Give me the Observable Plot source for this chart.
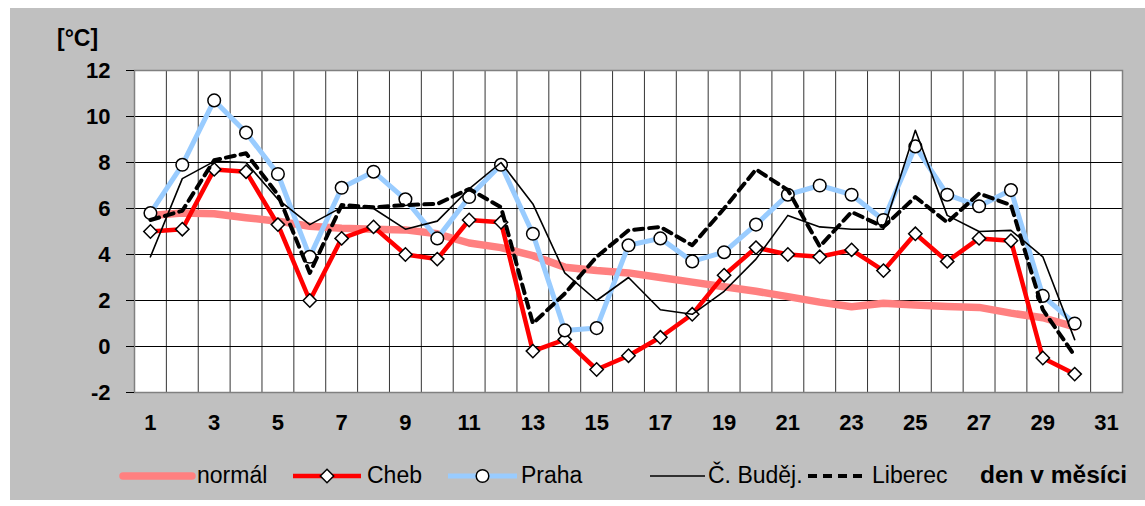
<!DOCTYPE html>
<html><head><meta charset="utf-8">
<script src="https://cdn.jsdelivr.net/npm/d3@7"></script>
<script src="https://cdn.jsdelivr.net/npm/@observablehq/plot@0.6"></script>
<style>
body{margin:0;background:#fff;font-family:"Liberation Sans",Arial,sans-serif;}
#wrap{position:relative;margin:8px 0 0 10px;width:1135px;height:492px;background:#c0c0c0;}
#unit{position:absolute;left:47px;top:17px;font-size:23px;font-weight:bold;color:#000;}
#chart{position:absolute;left:0;top:0;}
#legend{position:absolute;left:0;top:448px;}
#legend text{font-family:"Liberation Sans",Arial,sans-serif;font-size:23px;fill:#000;}
</style></head><body>
<div id="wrap"><div id="chart"></div><div id="unit">[°C]</div><svg id="legend" width="1135" height="40"></svg></div>
<script>
// categories
const dayCats = [1,2,3,4,5,6,7,8,9,10,11,12,13,14,15,16,17,18,19,20,21,22,23,24,25,26,27,28,29,30,31];
const days = [1,2,3,4,5,6,7,8,9,10,11,12,13,14,15,16,17,18,19,20,21,22,23,24,25,26,27,28,29,30];
const xTicks = [1,3,5,7,9,11,13,15,17,19,21,23,25,27,29,31];
const yTicks = [-2,0,2,4,6,8,10,12];
const seriesNames = ["normál","Cheb","Praha","Č. Buděj.","Liberec"];
// series values (°C)
const normal = [5.7,5.8,5.77,5.6,5.45,5.23,5.14,5.1,5.07,4.9,4.5,4.3,3.95,3.45,3.3,3.2,3.0,2.8,2.6,2.4,2.17,1.93,1.73,1.88,1.8,1.74,1.7,1.45,1.25,0.85];
const cheb = [5.0,5.1,7.7,7.6,5.3,2.0,4.7,5.2,4.0,3.8,5.5,5.4,-0.2,0.3,-1.0,-0.4,0.4,1.4,3.1,4.3,4.0,3.9,4.2,3.3,4.9,3.7,4.7,4.6,-0.5,-1.2];
const praha = [5.8,7.9,10.7,9.3,7.5,3.9,6.9,7.6,6.4,4.7,6.5,7.9,4.9,0.7,0.8,4.4,4.7,3.7,4.1,5.3,6.6,7.0,6.6,5.5,8.7,6.6,6.1,6.8,2.2,1.0];
const budej = [3.9,7.3,8.05,8.0,6.4,5.3,6.05,6.0,5.1,5.45,6.85,8.0,6.2,3.2,2.0,3.0,1.6,1.4,2.4,3.8,5.7,5.2,5.1,5.1,9.4,5.7,5.0,5.05,3.9,0.3];
const liberec = [5.5,5.9,8.1,8.4,6.6,3.2,6.15,6.05,6.15,6.2,6.85,6.05,1.0,2.3,3.9,5.05,5.2,4.4,6.0,7.7,6.8,4.35,5.85,5.2,6.5,5.4,6.65,6.15,1.6,-0.4];

const rows = vals => days.map((d,i) => ({day:d, v:vals[i]}));
const boundaries = [dayCats[0]-0.5, ...dayCats.map(d => d+0.5)];

const chart = Plot.plot({
  width:1135, height:440,
  marginLeft:124, marginRight:23, marginTop:62, marginBottom:56,
  style:{background:"transparent", fontFamily:"'Liberation Sans',Arial,sans-serif", fontWeight:"bold", color:"#000"},
  x:{type:"linear", domain:[dayCats[0]-0.5, dayCats[dayCats.length-1]+0.5], axis:null},
  y:{domain:[yTicks[0], yTicks[yTicks.length-1]], axis:null},
  marks:[
    Plot.frame({fill:"white", stroke:"none"}),
    Plot.ruleX(boundaries, {stroke:"#000", strokeWidth:1, strokeOpacity:0.8}),
    Plot.ruleY(yTicks, {stroke:"#000", strokeWidth:1}),
    Plot.frame({stroke:"#808080", strokeWidth:1.5}),
    Plot.line(rows(normal), {x:"day", y:"v", stroke:"#ff8080", strokeWidth:7.5, strokeLinejoin:"round", strokeLinecap:"round"}),
    Plot.line(rows(cheb), {x:"day", y:"v", stroke:"#ff0000", strokeWidth:4.5, strokeLinejoin:"round"}),
    Plot.dot(rows(cheb), {x:"day", y:"v", symbol:"diamond2", r:6, fill:"white", stroke:"#000", strokeWidth:1.5}),
    Plot.line(rows(praha), {x:"day", y:"v", stroke:"#99ccff", strokeWidth:5, strokeLinejoin:"round"}),
    Plot.dot(rows(praha), {x:"day", y:"v", symbol:"circle", r:6.3, fill:"white", stroke:"#000", strokeWidth:1.5}),
    Plot.line(rows(budej), {x:"day", y:"v", stroke:"#000", strokeWidth:1.6}),
    Plot.line(rows(liberec), {x:"day", y:"v", stroke:"#000", strokeWidth:4, strokeDasharray:"9,6"}),
    Plot.axisY({ticks:yTicks, tickSize:8, tickPadding:16, fontSize:22, fontWeight:"bold", tickFormat:d=>String(d), label:null}),
    Plot.axisX({ticks:xTicks, tickSize:0, tickPadding:22, fontSize:22, fontWeight:"bold", tickFormat:d=>String(d), label:null})
  ]
});
document.getElementById("chart").appendChild(chart);

// legend
const lg = d3.select("#legend");
const cy = 20, by = 27;
const items = [
  {name:seriesNames[0], x1:113, x2:182, tx:187, stroke:"#ff8080", w:7.5, cap:"round"},
  {name:seriesNames[1], x1:283, x2:351, tx:357, stroke:"#ff0000", w:4.5, marker:"diamond"},
  {name:seriesNames[2], x1:438, x2:507, tx:511, stroke:"#99ccff", w:5, marker:"circle"},
  {name:seriesNames[3], x1:640, x2:695, tx:698, stroke:"#000", w:1.6},
  {name:seriesNames[4], x1:798, x2:858, tx:862, stroke:"#000", w:4, dash:"9,6"}
];
for (const it of items) {
  lg.append("line").attr("x1",it.x1).attr("x2",it.x2).attr("y1",cy).attr("y2",cy)
    .attr("stroke",it.stroke).attr("stroke-width",it.w)
    .attr("stroke-linecap",it.cap||"butt").attr("stroke-dasharray",it.dash||null);
  const mx = (it.x1+it.x2)/2;
  if (it.marker==="diamond") lg.append("path").attr("d",d3.symbol(d3.symbolDiamond2, Math.PI*36)()).attr("transform",`translate(${mx},${cy})`).attr("fill","white").attr("stroke","#000").attr("stroke-width",1.5);
  if (it.marker==="circle") lg.append("circle").attr("cx",mx).attr("cy",cy).attr("r",6.3).attr("fill","white").attr("stroke","#000").attr("stroke-width",1.5);
  lg.append("text").attr("x",it.tx).attr("y",by).text(it.name);
}
lg.append("text").attr("x",970).attr("y",by).attr("font-weight","bold").style("font-size","24.5px").text("den v měsíci");
</script>
</body></html>
